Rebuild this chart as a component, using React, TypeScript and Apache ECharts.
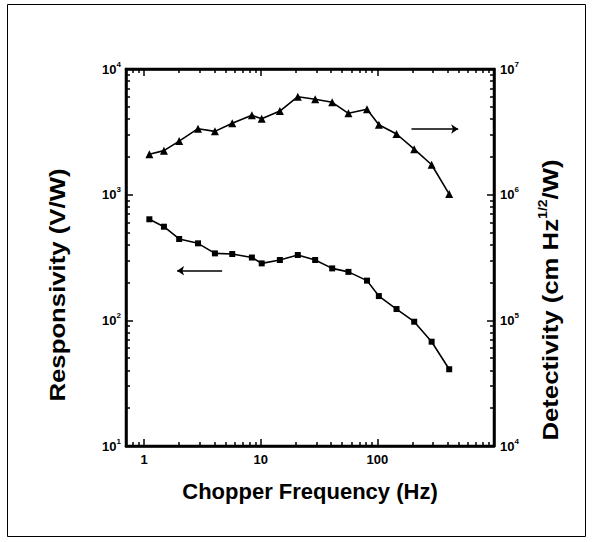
import { useEffect, useRef } from 'react';
import * as echarts from 'echarts';

// ---- data ----
const frequencyHz = [1.11, 1.48, 2.0, 2.9, 4.05, 5.7, 8.4, 10.2, 14.6, 20.8, 29.3, 41, 56.5, 81.5, 103, 146, 207, 292, 413];
const responsivityVW = [637, 556, 444, 410, 341, 337, 316, 284, 302, 331, 302, 259, 243, 207, 156, 123, 97.5, 67.6, 40.8];
const detectivity = [2.10e6, 2.24e6, 2.67e6, 3.35e6, 3.19e6, 3.70e6, 4.28e6, 4.02e6, 4.63e6, 6.02e6, 5.75e6, 5.43e6, 4.44e6, 4.78e6, 3.60e6, 3.04e6, 2.30e6, 1.73e6, 1.01e6];

// arrows (start / end in data coordinates)
const rightArrow = { from: [196, 3.33e6], to: [493, 3.33e6] };
const leftArrow = { from: [4.67, 248], to: [1.92, 248] };

// axis ticks and labels
const xLabelValues = [1, 10, 100];
const xMajorTicks = [1, 10, 100];
const xMinorTicks = [0.8, 0.9, 2, 3, 4, 5, 6, 7, 8, 9, 20, 30, 40, 50, 60, 70, 80, 90, 200, 300, 400, 500, 600, 700, 800, 900];
const yLeftMajor = [10, 100, 1000, 10000];
const yLeftMinor = [20, 30, 40, 50, 60, 70, 80, 90, 200, 300, 400, 500, 600, 700, 800, 900, 2000, 3000, 4000, 5000, 6000, 7000, 8000, 9000];
const yRightMajor = [1e4, 1e5, 1e6, 1e7];
const yRightMinor = [2e4, 3e4, 4e4, 5e4, 6e4, 7e4, 8e4, 9e4, 2e5, 3e5, 4e5, 5e5, 6e5, 7e5, 8e5, 9e5, 2e6, 3e6, 4e6, 5e6, 6e6, 7e6, 8e6, 9e6];

const X_MIN = 0.7, X_MAX = 1000;
const YL_MIN = 10, YL_MAX = 10000;
const YR_MIN = 1e4, YR_MAX = 1e7;

const FONT = "'Liberation Sans', Arial, Helvetica, sans-serif";

const supLabel = (v: number) => {
  const e = Math.round(Math.log10(v));
  return `{b|10}{s|${e}}`;
};

const labelRich = {
  b: { fontSize: 13, fontWeight: 'bold', fontFamily: FONT, color: '#000', lineHeight: 18 },
  s: { fontSize: 8, fontWeight: 'bold', fontFamily: FONT, color: '#000', verticalAlign: 'top', lineHeight: 10 },
};

const tickLine = { color: '#000', width: 1.5 };

const xAxisFor = (position: string, values: number[], len: number, main: boolean): any => ({
  type: 'log', logBase: 10, min: X_MIN, max: X_MAX, position,
  axisLine: { show: main, lineStyle: { color: '#000', width: 2.5 } },
  axisTick: { show: true, inside: true, length: len, customValues: values, lineStyle: tickLine },
  splitLine: { show: false },
  axisLabel: main && position === 'bottom'
    ? { show: true, customValues: xLabelValues, color: '#000', fontSize: 13, fontWeight: 'bold', fontFamily: FONT, margin: 7, formatter: (v: number) => String(Math.round(v)) }
    : { show: false },
});

const yAxisFor = (position: string, min: number, max: number, values: number[], len: number, labels: number[] | null): any => ({
  type: 'log', logBase: 10, min, max, position,
  axisLine: { show: labels !== null, lineStyle: { color: '#000', width: 2.5 } },
  axisTick: { show: true, inside: true, length: len, customValues: values, lineStyle: tickLine },
  splitLine: { show: false },
  axisLabel: labels
    ? { show: true, customValues: labels, margin: position === 'left' ? 5 : 6, formatter: supLabel, rich: labelRich }
    : { show: false },
});

export default function App() {
  const ref = useRef<HTMLDivElement>(null);
  useEffect(() => {
    if (!ref.current) return;
    const chart = echarts.init(ref.current, undefined, { renderer: 'svg' });
    const option: any = {
      animation: false,
      backgroundColor: '#fff',
      grid: { left: 126, right: 98, top: 69, bottom: 96, show: true, borderColor: '#000', borderWidth: 2.5, backgroundColor: 'transparent' },
      xAxis: [
        xAxisFor('bottom', xMajorTicks, 7, true),
        xAxisFor('bottom', xMinorTicks, 4, false),
        xAxisFor('top', xMajorTicks, 7, true),
        xAxisFor('top', xMinorTicks, 4, false),
      ],
      yAxis: [
        yAxisFor('left', YL_MIN, YL_MAX, yLeftMajor, 7, yLeftMajor),
        yAxisFor('right', YR_MIN, YR_MAX, yRightMajor, 7, yRightMajor),
        yAxisFor('left', YL_MIN, YL_MAX, yLeftMinor, 4, null),
        yAxisFor('right', YR_MIN, YR_MAX, yRightMinor, 4, null),
      ],
      graphic: [
        { type: 'rect', z: -10, shape: { x: 7.5, y: 4.5, width: 578, height: 532 }, style: { fill: 'none', stroke: '#000', lineWidth: 1 } },
        {
          type: 'text', x: 310, y: 491,
          style: { text: 'Chopper Frequency (Hz)', fontSize: 22, fontWeight: 'bold', fontFamily: FONT, fill: '#000', align: 'center', verticalAlign: 'middle' },
        },
        {
          type: 'text', x: 57, y: 285, rotation: Math.PI / 2, scaleX: 1.17,
          style: { text: 'Responsivity (V/W)', fontSize: 22, fontWeight: 'bold', fontFamily: FONT, fill: '#000', align: 'center', verticalAlign: 'middle' },
        },
        {
          type: 'text', x: 550, y: 300, rotation: Math.PI / 2, scaleX: 1.17,
          style: {
            text: '{a|Detectivity (cm Hz}{s|1/2}{a|/W)}',
            align: 'center', verticalAlign: 'middle',
            rich: {
              a: { fontSize: 22, fontWeight: 'bold', fontFamily: FONT, fill: '#000', lineHeight: 26 },
              s: { fontSize: 12, fontWeight: 'bold', fontFamily: FONT, fill: '#000', verticalAlign: 'top', lineHeight: 14 },
            },
          },
        },
      ],
      series: [
        {
          name: 'Responsivity', type: 'line', xAxisIndex: 0, yAxisIndex: 0,
          data: frequencyHz.map((f, i) => [f, responsivityVW[i]]),
          symbol: 'rect', symbolSize: 6, showAllSymbol: true,
          lineStyle: { color: '#000', width: 1.6 }, itemStyle: { color: '#000' },
          markLine: {
            silent: true, symbol: ['none', 'arrow'], symbolSize: 7,
            lineStyle: { color: '#000', width: 1.5, type: 'solid' }, label: { show: false },
            data: [[{ coord: leftArrow.from }, { coord: leftArrow.to }]],
          },
        },
        {
          name: 'Detectivity', type: 'line', xAxisIndex: 0, yAxisIndex: 1,
          data: frequencyHz.map((f, i) => [f, detectivity[i]]),
          symbol: 'triangle', symbolSize: 8, showAllSymbol: true,
          lineStyle: { color: '#000', width: 1.6 }, itemStyle: { color: '#000' },
          markLine: {
            silent: true, symbol: ['none', 'arrow'], symbolSize: 7,
            lineStyle: { color: '#000', width: 1.5, type: 'solid' }, label: { show: false },
            data: [[{ coord: rightArrow.from }, { coord: rightArrow.to }]],
          },
        },
      ],
    };
    chart.setOption(option);
    return () => chart.dispose();
  }, []);
  return <div ref={ref} style={{ position: 'fixed', left: 0, top: 0, width: 592, height: 542, background: '#fff' }} />;
}
